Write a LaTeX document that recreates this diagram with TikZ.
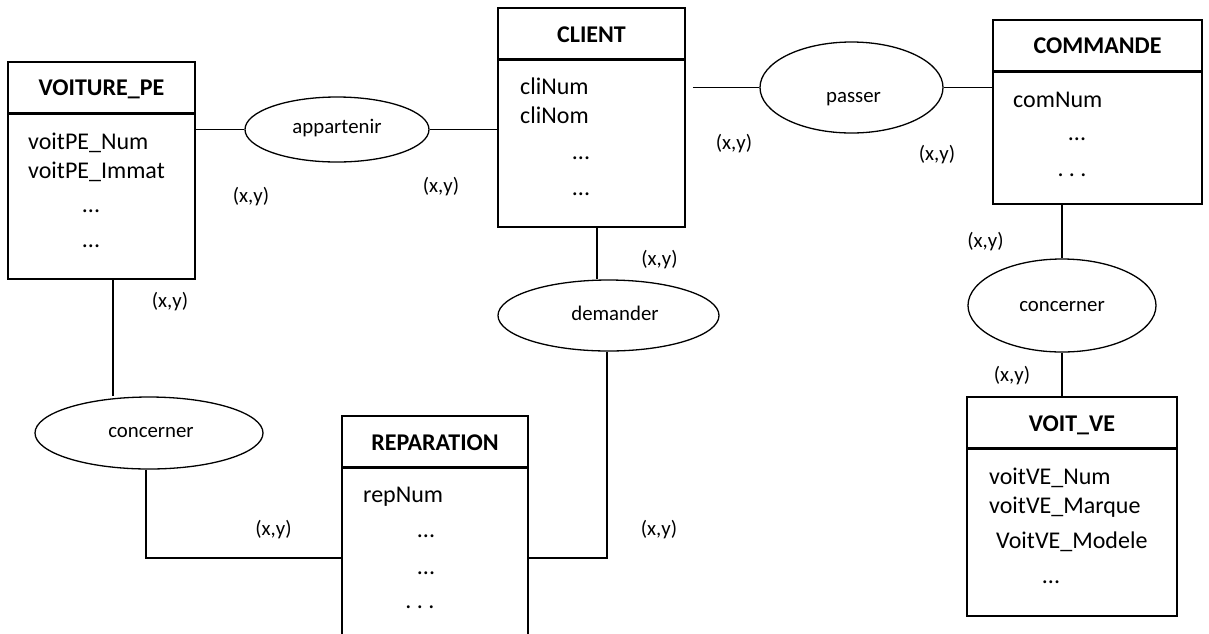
\documentclass[tikz,border=0pt]{standalone}
\usepackage{fontspec}
\setmainfont{Carlito}
\usetikzlibrary{shapes.geometric,backgrounds}
\newcommand{\attrfont}{\fontsize{24}{28}\selectfont}
\newcommand{\ttlfont}{\fontsize{24}{28}\selectfont\bfseries}
\newcommand{\relfont}{\fontsize{20.8}{24}\selectfont}
\begin{document}
\begin{tikzpicture}[x=1pt,y=-1pt,
 entity/.style={draw,line width=1.5pt,fill=white,rectangle,inner sep=0pt},
 rel/.style={draw,line width=1.3pt,fill=white,ellipse,inner sep=0pt},
 rellabel/.style={anchor=base,font=\relfont,inner sep=0pt},
 conn/.style={line width=1.3pt},
 sepline/.style={line width=2.6pt},
 ttl/.style={anchor=base,font=\ttlfont,inner sep=0pt},
 attr/.style={anchor=base west,font=\attrfont,inner sep=0pt},
 dots/.style={anchor=base,font=\attrfont,inner sep=0pt},
 card/.style={font=\relfont,inner sep=0pt}]
\useasboundingbox (0,0) rectangle (1209,633);
\begin{scope}[on background layer]
\fill[white] (0,0) rectangle (1209,633);
\end{scope}

% entities
\node[entity,minimum width=187pt,minimum height=217pt] (vpe) at (101.5,170.5) {};
\node[entity,minimum width=187pt,minimum height=219pt] (cli) at (591.5,117.5) {};
\node[entity,minimum width=209pt,minimum height=184pt] (com) at (1097.5,112) {};
\node[entity,minimum width=210pt,minimum height=219pt] (vve) at (1072,506.5) {};
\node[entity,minimum width=186pt,minimum height=264pt] (rep) at (435,548) {};

% header separators
\foreach \e in {vpe,cli,com,vve,rep}{
  \draw[sepline] ([yshift=-52pt]\e.north west) -- ([yshift=-52pt]\e.north east);
}

% relations
\node[rel,minimum width=184pt,minimum height=65pt] (apt) at (337,129.5) {};
\node[rel,minimum width=183pt,minimum height=91pt] (pas) at (851.5,87.5) {};
\node[rel,minimum width=188pt,minimum height=93pt] (con2) at (1062,305.5) {};
\node[rel,minimum width=221pt,minimum height=71pt] (dem) at (608.5,315.5) {};
\node[rel,minimum width=228pt,minimum height=72pt] (con1) at (149,433) {};
\node[rellabel] (aptL) at (337,133) {appartenir};
\node[rellabel] (pasL) at (853.5,102) {passer};
\node[rellabel] (con2L) at (1062,311) {concerner};
\node[rellabel] (demL) at (615,320) {demander};
\node[rellabel] (con1L) at (151,437) {concerner};

% connectors
\begin{scope}[on background layer]
\draw[conn] (vpe.east |- apt.west) -- (apt.west);
\draw[conn] (apt.east) -- (apt.east -| cli.west);
\coordinate (cliR) at ([xshift=7pt]cli.east |- pas.west);
\draw[conn] (cliR) -- (pas.west);
\draw[conn] (pas.east) -- (pas.east -| com.west);
\draw[conn] (com.south -| con2.north) -- (con2.north);
\draw[conn] (con2.south) -- (con2.south |- vve.north);
\draw[conn] ([xshift=5.5pt]cli.south) -- ([xshift=5.5pt]cli.south |- dem.north);
\draw[conn] ([xshift=-1.5pt]dem.south) |- ([yshift=-10pt]rep.east);
\draw[conn] ([xshift=11.5pt]vpe.south) -- ([xshift=11.5pt]vpe.south |- con1.north);
\draw[conn] ([xshift=-3pt]con1.south) |- ([yshift=-10pt]rep.west);
\end{scope}

% VOITURE_PE texts
\node[ttl] (vpeT) at (101.5,95) {VOITURE\_PE};
\node[attr] (vpeA1) at (28,149) {voitPE\_Num};
\node[attr] (vpeA2) at (28,178) {voitPE\_Immat};
\node[dots] (vpeA3) at (91,212) {...};
\node[dots] (vpeA4) at (91,247) {...};

% CLIENT texts
\node[ttl] (cliT) at (591.5,42) {CLIENT};
\node[attr] (cliA1) at (520,94) {cliNum};
\node[attr] (cliA2) at (520,123) {cliNom};
\node[dots] (cliA3) at (581,159) {...};
\node[dots] (cliA4) at (581,195) {...};

% COMMANDE texts
\node[ttl] (comT) at (1097.5,53) {COMMANDE};
\node[attr] (comA1) at (1013,107) {comNum};
\node[dots] (comA2) at (1077,140) {...};
\node[dots] (comA3) at (1072,176) {.\ .\ .};

% VOIT_VE texts
\node[ttl] (vveT) at (1072,431) {VOIT\_VE};
\node[attr] (vveA1) at (989,484) {voitVE\_Num};
\node[attr] (vveA2) at (989,513) {voitVE\_Marque};
\node[attr] (vveA3) at (996,548) {VoitVE\_Modele};
\node[dots] (vveA4) at (1051,583) {...};

% REPARATION texts
\node[ttl] (repT) at (435,450) {REPARATION};
\node[attr] (repA1) at (363,502) {repNum};
\node[dots] (repA2) at (426,537) {...};
\node[dots] (repA3) at (426,574) {...};
\node[dots] (repA4) at (420,608) {.\ .\ .};

% cardinalities
\node[card] (k1) at (251,197) {(x,y)};
\node[card] (k2) at (441,187) {(x,y)};
\node[card] (k3) at (734,144) {(x,y)};
\node[card] (k4) at (937,155) {(x,y)};
\node[card] (k5) at (985.5,242) {(x,y)};
\node[card] (k6) at (1012,376) {(x,y)};
\node[card] (k7) at (659.5,260) {(x,y)};
\node[card] (k8) at (659,530) {(x,y)};
\node[card] (k9) at (273.5,530) {(x,y)};
\node[card] (k10) at (170,302) {(x,y)};
\end{tikzpicture}
\end{document}
